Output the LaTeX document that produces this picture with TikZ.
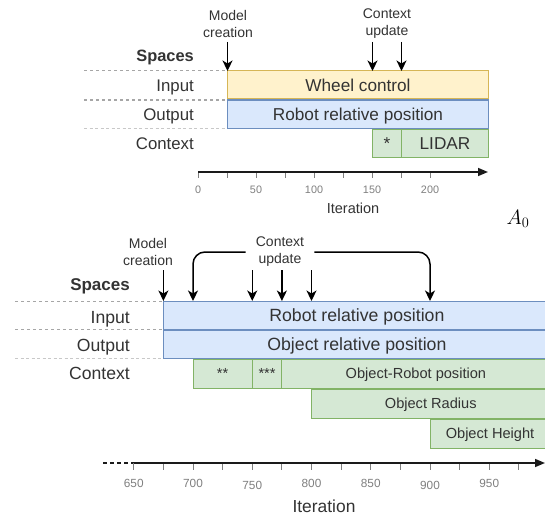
\documentclass[tikz,border=0pt]{standalone}
\usepackage{fontspec}
\setmainfont{Liberation Sans}
\usetikzlibrary{arrows.meta}
\definecolor{txt}{HTML}{333333}
\definecolor{yfill}{HTML}{FFF2CC}
\definecolor{ystroke}{HTML}{D6B656}
\definecolor{bfill}{HTML}{DAE8FC}
\definecolor{bstroke}{HTML}{6C8EBF}
\definecolor{gfill}{HTML}{D5E8D4}
\definecolor{gstroke}{HTML}{82B366}
\definecolor{dashc}{HTML}{A6A6A6}
\definecolor{dashl}{HTML}{C8C8C8}
\definecolor{tickc}{HTML}{7F7F7F}
\definecolor{axisc}{HTML}{1A1A1A}
\tikzset{
  lbl/.style={anchor=east, inner sep=0pt, text=txt, font=\fontsize{16.8}{19}\selectfont, text height=12pt, text depth=0pt},
  lblb/.style={lbl, font=\bfseries\fontsize{16.4}{19}\selectfont},
  note/.style={align=center, text=txt, font=\fontsize{14}{17}\selectfont, inner sep=0pt},
  box/.style={draw, line width=1pt, inner sep=0pt, outer sep=0pt, anchor=north west, text=txt},
  bigtxt/.style={font=\fontsize{17.2}{19}\selectfont, text height=12.3pt, text depth=0pt},
  midtxt/.style={font=\fontsize{14.6}{17}\selectfont, text height=10.5pt, text depth=0pt},
  ybox/.style={box, fill=yfill, draw=ystroke},
  bbox/.style={box, fill=bfill, draw=bstroke},
  gbox/.style={box, fill=gfill, draw=gstroke},
  arr/.style={-{Stealth[length=10.5pt,width=10pt,inset=3pt]}, line width=1.5pt, draw=black},
  guide/.style={dashc, line width=1pt, dash pattern=on 3pt off 3pt},
  guidel/.style={dashl, line width=1.4pt, dash pattern=on 3pt off 2.5pt},
  axis/.style={axisc, line width=1.6pt, -{Triangle[length=10pt,width=8pt]}},
  tick/.style={tickc, line width=1pt},
  ticklbl/.style={text=tickc, inner sep=0pt, font=\fontsize{10.8}{12}\selectfont},
  ticklblb/.style={text=tickc, inner sep=0pt, font=\fontsize{11.8}{13}\selectfont},
}
\begin{document}
\begin{tikzpicture}[x=1pt,y=-1pt]
\clip (0,0) rectangle (545,516);
\fill[white] (0,0) rectangle (545,516);

% ================= TOP DIAGRAM =================
\draw[guide] (84,71) -- (227.5,71);
\draw[guide] (84,100) -- (227.5,100);
\draw[guidel] (84,128.5) -- (227.5,128.5);

\node[lblb] (tsp) at (194,56) {Spaces};
\node[lbl] (tin) at (194,86) {Input};
\node[lbl] (tout) at (194,114) {Output};
\node[lbl] (tctx) at (194,143) {Context};

\node[ybox, bigtxt, minimum width=261pt, minimum height=28pt] (wheel) at (227.5,71) {Wheel control};
\node[bbox, bigtxt, minimum width=261pt, minimum height=28pt] (trobot) at (227.5,100) {Robot relative position};
\node[gbox, bigtxt, minimum width=29pt, minimum height=28pt] (star) at (372.5,129) {*};
\node[gbox, bigtxt, minimum width=87pt, minimum height=28pt] (lidar) at (401.5,129) {LIDAR};

\node[note] (tmc) at (228,23.5) {Model\\creation};
\node[note] (tcu) at (387,23.5) {Context\\update};
\coordinate (tm1) at (227.5,42);
\coordinate (tc1) at (372.5,42);
\coordinate (tc2) at (401.5,42);
\draw[arr] (tm1) -- (tm1 |- wheel.north);
\draw[arr] (tc1) -- (tc1 |- wheel.north);
\draw[arr] (tc2) -- (tc2 |- wheel.north);

\coordinate (tax0) at (198,172);
\coordinate (tax1) at (488,172);
\foreach \k in {0,...,8} \draw[tick] ({198+29*\k},172) -- ++(0,6);
\draw[axis] (tax0) -- (tax1);
\foreach \v [count=\k from 0] in {0,50,100,150,200}
  \node[ticklbl] (tl\k) at ({198+58*\k},190) {\v};
\node[text=txt, inner sep=0pt, font=\fontsize{14.5}{16}\selectfont] (tit) at (353,208) {Iteration};
\node[inner sep=0pt] (a0) at (518,219) {\fontsize{22}{24}\selectfont$A_0$};

% ================= BOTTOM DIAGRAM =================
\draw[guide] (15,301) -- (163.4,301);
\draw[guide] (15,329.5) -- (163.4,329.5);
\draw[guidel] (15,358.5) -- (163.4,358.5);

\node[lblb, font=\bfseries\fontsize{17}{19}\selectfont] (bsp) at (130,284) {Spaces};
\node[lbl, font=\fontsize{17.6}{19}\selectfont] (bin) at (130,317) {Input};
\node[lbl, font=\fontsize{17.6}{19}\selectfont] (bout) at (130,345) {Output};
\node[lbl, font=\fontsize{17.6}{19}\selectfont] (bctx) at (130,373) {Context};

\node[bbox, font=\fontsize{17.7}{19}\selectfont, text height=12.6pt, text depth=0pt, minimum width=387pt, minimum height=28.5pt] (brobot) at (163.4,301) {Robot relative position};
\node[bbox, font=\fontsize{17.7}{19}\selectfont, text height=12.6pt, text depth=0pt, minimum width=387pt, minimum height=28.5pt] (bobj) at (163.4,330) {Object relative position};
\node[gbox, midtxt, minimum width=59.25pt, minimum height=29pt] (s2) at (193,359) {**};
\node[gbox, midtxt, minimum width=29.65pt, minimum height=29pt] (s3) at (252.25,359) {***};
\node[gbox, midtxt, minimum width=268pt, minimum height=29pt] (orp) at (281.9,359) {Object-Robot position};
\node[gbox, midtxt, minimum width=238.5pt, minimum height=29pt] (orad) at (311.5,389) {Object Radius};
\node[gbox, midtxt, minimum width=120pt, minimum height=29pt] (ohgt) at (430,419) {Object Height};

\node[note] (bmc) at (148,252) {Model\\creation};
\node[note, inner xsep=10pt] (bcu) at (280,252) {Context\\update};
\coordinate (bm1) at (163.4,270);
\coordinate (bc750) at (252.25,270);
\coordinate (bc775) at (281.9,270);
\coordinate (bc800) at (311.5,270);
\coordinate (bt700) at (193,301);
\coordinate (bt900) at (430,301);
\draw[arr] (bm1) -- (bm1 |- brobot.north);
\draw[arr] (bc750) -- (bc750 |- brobot.north);
\draw[arr] (bc775) -- (bc775 |- brobot.north);
\draw[arr] (bc800) -- (bc800 |- brobot.north);
\draw[arr, rounded corners=12pt] (bcu.west) -| (bt700);
\draw[arr, rounded corners=12pt] (bcu.east) -| (bt900);

\coordinate (bax0) at (133.75,463);
\coordinate (bax1) at (545,463);
\coordinate (baxd) at (103,463);
\draw[axisc, line width=1.6pt, dash pattern=on 4pt off 3pt] (baxd) -- (bax0);
\foreach \v in {650,675,...,975} \draw[tick] ({193+1.185*(\v-700)},463) -- ++(0,7);
\draw[axis] (bax0) -- (bax1);
\foreach \v/\dy in {650/0,700/0,750/2,800/0,850/0,900/2,950/0}
  \node[ticklblb] (bl\v) at ({193+1.185*(\v-700)},{483+\dy}) {\v};
\node[text=txt, inner sep=0pt, font=\fontsize{17.4}{19}\selectfont] (bit) at (324,506) {Iteration};
\end{tikzpicture}
\end{document}
